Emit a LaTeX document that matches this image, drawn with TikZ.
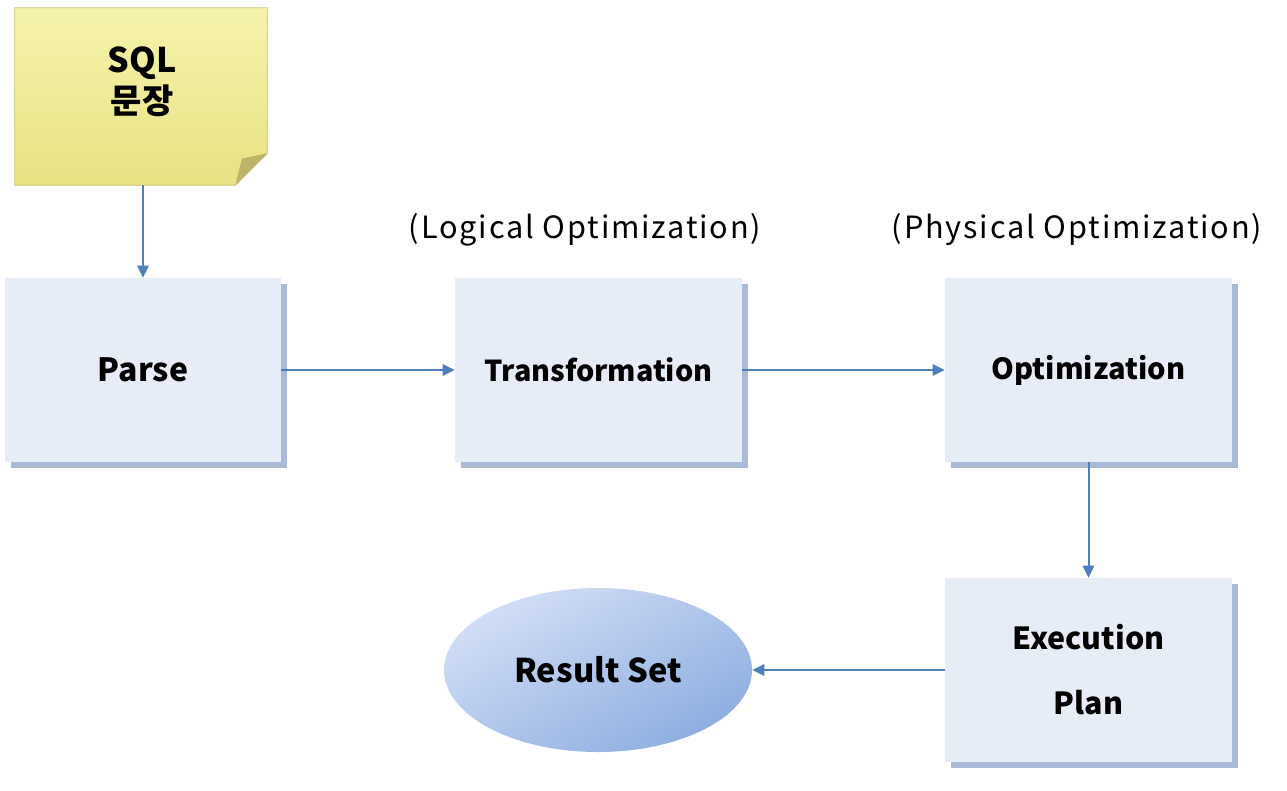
\documentclass[tikz,border=0pt]{standalone}
\usepackage{fontspec}
\setmainfont{Noto Sans CJK KR}
\usetikzlibrary{arrows.meta,shadows,backgrounds,shapes.geometric}
\definecolor{boxfill}{HTML}{E6EDF6}
\definecolor{shadowc}{HTML}{A9B9D6}
\definecolor{arrowc}{HTML}{4F7FBA}
\definecolor{noteT}{HTML}{F6F3AC}
\definecolor{noteB}{HTML}{E8E283}
\definecolor{notefold}{HTML}{BDB46A}
\definecolor{noteedge}{HTML}{C9C27E}
\definecolor{ellA}{HTML}{D2DEF6}
\definecolor{ellB}{HTML}{8EAEE0}
\newcommand{\bfsz}[1]{\bfseries\fontsize{#1}{#1}\selectfont}
\tikzset{
  procbox/.style={rectangle, fill=boxfill, minimum width=215.25pt, minimum height=138pt,
    inner sep=0pt, align=center,
    drop shadow={shadow xshift=4.5pt, shadow yshift=-4.5pt, fill=shadowc, opacity=1}},
  conn/.style={draw=arrowc, line width=1.5pt, -{Triangle[length=9pt,width=8.5pt]}},
  phase/.style={font=\fontsize{23}{26}\selectfont\addfontfeatures{LetterSpace=6}},
}
\begin{document}
\begin{tikzpicture}[x=0.75pt,y=-0.75pt]
\useasboundingbox (0,0) rectangle (1287,790);
% note
\node[minimum width=189pt, minimum height=132.75pt, inner sep=0pt] (note) at (141,96.5) {};
\node[align=center, font=\bfseries\fontsize{25.5}{31}\selectfont, inner sep=0pt] (notetxt)
  at (142,82) {SQL\\문장};
\begin{scope}[on background layer]
\shade[top color=noteT, bottom color=noteB, draw=noteedge, line width=0.6pt]
  (note.north west) -- (note.north east) -- ([yshift=24pt]note.south east)
  -- ([xshift=-24pt]note.south east) -- (note.south west) -- cycle;
\fill[notefold] ([yshift=24pt]note.south east) -- ([xshift=-24pt]note.south east)
  -- ([xshift=-19pt,yshift=20pt]note.south east) -- cycle;
\end{scope}
% boxes
\node[procbox, minimum width=207pt, font=\bfsz{24}] (parse) at (143,370) {Parse};
\node[procbox, font=\bfsz{21.6}] (trans) at (598.5,370) {Transformation};
\node[procbox, font=\bfsz{21.8}] (opt) at (1088.5,370) {Optimization};
\node[procbox, font=\bfsz{22.8}] (exec) at (1088.5,670) {Execution\\[26pt]Plan};
% ellipse
\node[ellipse, minimum width=231pt, minimum height=123pt, inner sep=0pt,
  top color=ellA, bottom color=ellB, shading angle=30,
  font=\bfsz{24.5}] (res) at (598,670) {Result Set};
% phase labels
\node[phase] (lab1) at (585,230) {(Logical Optimization)};
\node[phase] (lab2) at (1077,230) {(Physical Optimization)};
% connectors
\draw[conn] (note.south -| parse.north) -- (parse.north);
\draw[conn] (parse.east) -- (trans.west);
\draw[conn] (trans.east) -- (opt.west);
\draw[conn] (opt.south) -- (exec.north);
\draw[conn] (exec.west) -- (res.east);
\end{tikzpicture}
\end{document}
